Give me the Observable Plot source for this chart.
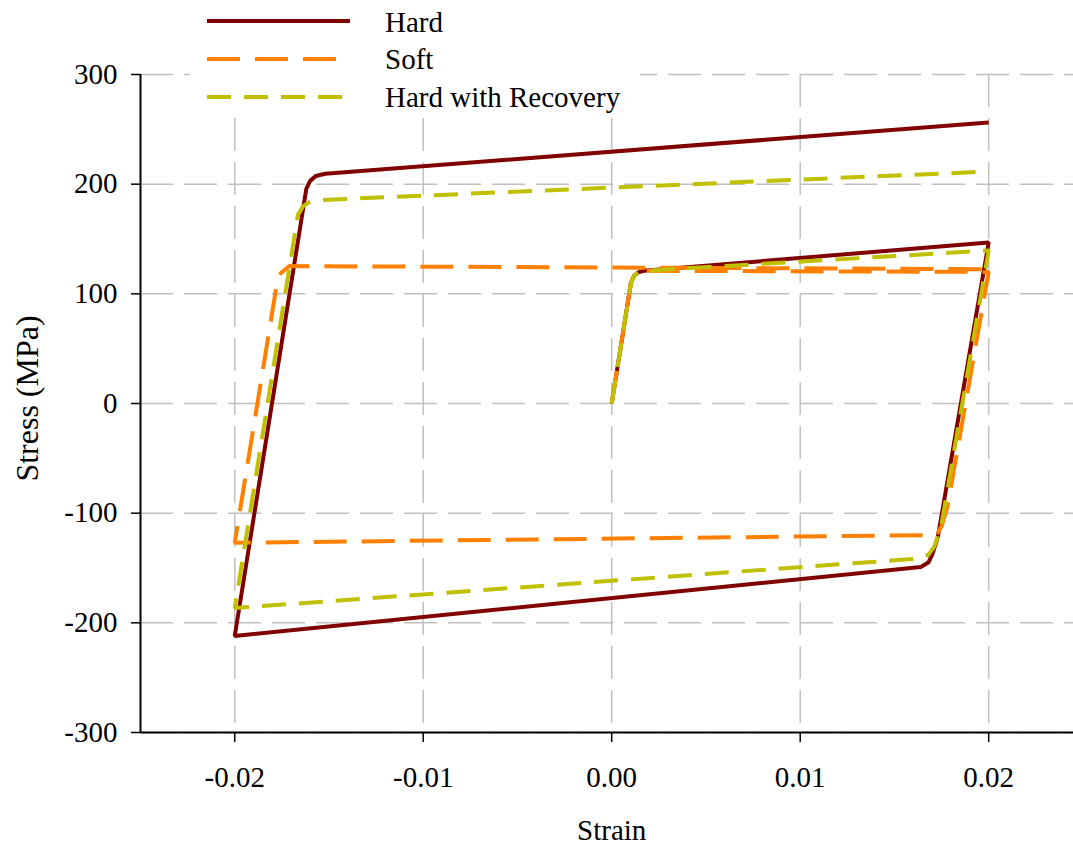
<!DOCTYPE html>
<html><head><meta charset="utf-8">
<script src="https://cdn.jsdelivr.net/npm/d3@7"></script>
<script src="https://cdn.jsdelivr.net/npm/@observablehq/plot@0.6"></script>
<style>
html,body{margin:0;padding:0;background:#fff;overflow:hidden;}
#wrap{position:relative;width:1073px;height:844px;}
#legend{position:absolute;left:0;top:0;}
</style></head><body><div id="wrap"></div>
<script>
// ---- data ----
const seriesNames = ["Hard", "Soft", "Hard with Recovery"];
const seriesColors = ["#800000", "#ff8000", "#c0c000"];
const seriesDash = [null, "33,15", "24,13"];

const hardStrain = [0, 0.00102, 0.00118, 0.0014, 0.0017, 0.02, 0.0173, 0.0170, 0.0168, 0.0164, -0.02, -0.0162, -0.0160, -0.0157, -0.0152, 0.02];
const hardStress = [0, 110, 116.5, 119.5, 121, 146.8, -122, -138, -145, -149, -212, 196, 203, 207.5, 209.5, 256.2];

const softStrain = [0, 0.00102, 0.00118, 0.0014, 0.0017, 0.02, 0.0178, 0.0175, 0.0173, 0.0170, -0.02, -0.01772, -0.01755, -0.0171, 0.02];
const softStress = [0, 110, 116.5, 119.5, 121, 120, -95, -112, -118, -120, -127, 114, 119, 125.3, 122.5];

const hrStrain = [0, 0.00102, 0.00118, 0.0014, 0.0017, 0.02, 0.01745, 0.0171, 0.0168, 0.0163, 0.0150, -0.02, -0.01665, -0.01637, -0.0160, -0.0155, 0.02];
const hrStress = [0, 110, 116.5, 119.5, 121, 139.5, -115, -131, -138, -141.5, -143, -186.5, 172, 180, 184, 185.5, 211.5];

const xTicks = [-0.02, -0.01, 0, 0.01, 0.02];
const yTicks = [-300, -200, -100, 0, 100, 200, 300];
const xLabel = "Strain";
const yLabel = "Stress (MPa)";

// ---- build table ----
const seriesData = [[hardStrain, hardStress], [softStrain, softStress], [hrStrain, hrStress]];
const rows = [];
seriesData.forEach(([xs, ys], i) => xs.forEach((x, j) => rows.push({series: seriesNames[i], strain: x, stress: ys[j]})));

const FONT = "'Liberation Serif', 'Times New Roman', serif";

const lineMarks = seriesNames.map((name, i) =>
  Plot.line(rows.filter(r => r.series === name), {
    x: "strain", y: "stress",
    stroke: seriesColors[i], strokeWidth: 4,
    strokeDasharray: seriesDash[i] || undefined,
    strokeLinejoin: "miter", strokeLinecap: "butt", curve: "linear"
  })
);

const chart = Plot.plot({
  width: 1073,
  height: 844,
  marginLeft: 140,
  marginRight: 0,
  marginTop: 74,
  marginBottom: 112,
  style: {background: "white", fontFamily: FONT, fontSize: "29px", color: "black", overflow: "visible"},
  x: {domain: [-0.025, 0.0245], axis: null},
  y: {domain: [-300, 300], axis: null},
  marks: [
    Plot.gridX(xTicks, {stroke: "#c0c0c0", strokeOpacity: 1, strokeWidth: 1.5, strokeDasharray: "33,11"}),
    Plot.gridY(yTicks, {stroke: "#c0c0c0", strokeOpacity: 1, strokeWidth: 1.5, strokeDasharray: "33,11"}),
    ...lineMarks,
    Plot.ruleX([-0.025], {stroke: "black", strokeWidth: 2}),
    Plot.ruleY([-300], {stroke: "black", strokeWidth: 2}),
    Plot.axisX({ticks: xTicks, tickSize: 10, tickPadding: 24, tickFormat: d => d.toFixed(2), fontSize: 29, label: null, strokeWidth: 1.5, fill: "black"}),
    Plot.axisY({ticks: yTicks, tickSize: 9, tickPadding: 14, tickFormat: d => String(d), fontSize: 29, label: null, strokeWidth: 1.5, fill: "black"}),
    Plot.text([xLabel], {x: () => 0, frameAnchor: "bottom", dy: 98, fontSize: 29, textAnchor: "middle", lineAnchor: "middle", fill: "black"}),
    Plot.text([yLabel], {frameAnchor: "left", rotate: -90, dx: -113, dy: -5, fontSize: 32, textAnchor: "middle", lineAnchor: "middle", fill: "black"})
  ]
});

const wrap = document.getElementById("wrap");
wrap.appendChild(chart);

// ---- legend overlay ----
const leg = d3.select(wrap).append("svg").attr("id", "legend")
  .attr("width", 1073).attr("height", 120)
  .style("font-family", FONT).style("font-size", "29px");
leg.append("rect").attr("x", 190).attr("y", 0).attr("width", 450).attr("height", 112).attr("fill", "white");
const lineY = [21, 59, 97];
const textY = [32, 69, 107];
seriesNames.forEach((name, i) => {
  leg.append("line").attr("x1", 207).attr("x2", 350).attr("y1", lineY[i]).attr("y2", lineY[i])
    .attr("stroke", seriesColors[i]).attr("stroke-width", 4)
    .attr("stroke-dasharray", seriesDash[i]);
  leg.append("text").attr("x", 385).attr("y", textY[i]).attr("fill", "black").text(name);
});
</script>
</body></html>
